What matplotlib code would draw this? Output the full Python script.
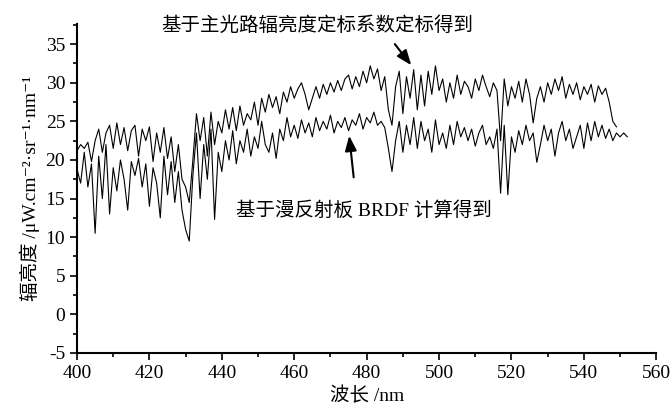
import numpy as np
import matplotlib
matplotlib.use("Agg")
import matplotlib.pyplot as plt
from matplotlib.ticker import MultipleLocator

plt.rcParams["font.family"] = ["Liberation Serif", "Noto Sans CJK SC", "DejaVu Serif"]
plt.rcParams["axes.unicode_minus"] = False

# 基于主光路辐亮度定标系数定标得到 (400-549 nm, 1 nm step)
wl_main = np.arange(400, 550)
rad_main = [
    21.2, 22.0, 21.5, 22.3, 19.8, 22.5, 24.0, 21.0, 23.5, 24.5,
    21.5, 24.8, 22.0, 24.2, 21.2, 23.8, 24.5, 20.5, 24.0, 22.5,
    24.3, 19.8, 23.5, 21.0, 24.2, 20.2, 23.0, 18.5, 22.0, 17.5,
    16.5, 14.5, 20.0, 26.0, 22.5, 25.5, 20.5, 26.2, 22.0, 25.0,
    23.5, 26.5, 24.0, 26.8, 23.8, 27.0, 24.5, 26.0, 25.2, 27.5,
    24.5, 28.0, 26.2, 28.5, 26.8, 28.2, 26.0, 28.8, 27.5, 29.5,
    28.0, 29.2, 30.0, 28.5, 26.5, 28.0, 29.5, 28.0, 29.8, 28.5,
    30.0, 28.8, 30.3, 29.0, 30.5, 31.0, 29.2, 30.8, 29.5, 31.5,
    30.0, 32.2, 30.5, 31.8, 29.0, 30.8, 26.5, 24.5, 29.5, 31.5,
    26.0, 30.8, 28.0, 31.7, 26.5, 31.0, 27.0, 31.5, 28.5, 32.2,
    29.0, 30.5, 27.5, 30.0, 28.0, 31.0, 28.5, 30.2, 29.5, 28.0,
    30.5, 29.0, 31.0, 29.5, 28.2, 30.0, 29.0, 22.5, 30.5, 27.0,
    29.5, 28.0, 30.2, 27.5, 30.5, 28.5, 24.8, 28.0, 29.5, 27.5,
    30.0, 28.5, 30.5, 29.0, 30.8, 28.0, 29.8, 28.5, 30.0, 27.8,
    29.5, 28.5, 29.8, 27.5, 29.6, 28.5, 29.3, 27.5, 25.0, 24.3,
]

# 基于漫反射板 BRDF 计算得到 (400-552 nm, 1 nm step)
wl_brdf = np.arange(400, 553)
rad_brdf = [
    18.8, 17.0, 21.0, 16.5, 19.5, 10.5, 20.5, 15.0, 22.0, 13.0,
    19.0, 16.0, 20.0, 17.5, 13.5, 19.8, 18.0, 20.2, 16.5, 19.5,
    14.0, 19.0, 17.0, 12.5, 20.5, 15.5, 19.8, 14.5, 18.5, 13.5,
    11.0, 9.5, 18.0, 23.5, 15.0, 22.0, 17.5, 24.0, 12.3, 21.0,
    18.5, 22.5, 20.0, 23.8, 19.5, 22.5, 21.0, 24.0, 20.5, 23.0,
    21.5, 25.0, 22.0, 21.0, 23.5, 20.2, 24.0, 22.5, 25.5, 23.0,
    24.5, 22.8, 25.2, 23.5, 24.8, 23.0, 25.5, 23.8, 25.0, 24.0,
    25.8, 23.5, 25.0, 24.2, 25.5, 23.8, 25.2, 24.5, 26.0, 24.0,
    25.5, 24.8, 26.2, 24.5, 25.0, 24.2, 21.5, 18.5, 22.5, 25.0,
    21.0, 24.5, 22.0, 25.5, 21.5, 25.0, 22.5, 24.0, 21.0, 25.2,
    22.0, 23.5, 21.5, 24.5, 22.0, 25.0, 23.0, 24.2, 22.5, 24.0,
    21.8, 23.5, 24.5, 22.0, 23.0, 21.5, 24.0, 15.7, 24.5, 15.5,
    23.0, 21.0, 23.8, 22.0, 24.5, 22.5, 23.5, 19.7, 22.0, 24.5,
    22.5, 24.0, 20.5, 23.5, 25.0, 22.5, 24.0, 21.5, 23.0, 24.5,
    21.5, 24.8, 22.5, 25.0, 23.0, 24.5, 22.8, 24.0, 22.5, 23.5,
    23.0, 23.5, 23.0,
]

fig = plt.figure(figsize=(6.72, 4.09), dpi=100)
ax = fig.add_axes([0.1146, 0.137, 0.862, 0.804])

ax.plot(wl_main, rad_main, color="black", lw=0.8)
ax.plot(wl_brdf, rad_brdf, color="black", lw=0.8)

ax.set_xlim(400, 560)
ax.set_ylim(-5, 37.6)
ax.xaxis.set_major_locator(MultipleLocator(20))
ax.xaxis.set_minor_locator(MultipleLocator(10))
ax.yaxis.set_major_locator(MultipleLocator(5))
ax.yaxis.set_minor_locator(MultipleLocator(2.5))
ax.tick_params(which="both", direction="out", labelsize=14, width=1.2)
ax.tick_params(which="major", length=5)
ax.tick_params(which="minor", length=3)
for side in ["top", "right"]:
    ax.spines[side].set_visible(False)
for side in ["left", "bottom"]:
    ax.spines[side].set_linewidth(1.5)

ax.set_xlabel("波长 /nm", fontsize=14, labelpad=4)
ax.set_ylabel("辐亮度 /μW.cm⁻²·sr⁻¹·nm⁻¹", fontsize=14, labelpad=4)

ax.annotate("", xy=(492.8, 32.0), xytext=(487.3, 35.3),
            arrowprops=dict(arrowstyle="-|>,head_width=0.35,head_length=0.9", color="black", lw=1.5),
            annotation_clip=False)
ax.text(466.5, 37.4, "基于主光路辐亮度定标系数定标得到", fontsize=14,
        ha="center", va="center", clip_on=False)

ax.annotate("", xy=(475.1, 23.5), xytext=(476.5, 17.4),
            arrowprops=dict(arrowstyle="-|>,head_width=0.35,head_length=0.9", color="black", lw=1.5))
ax.text(479.2, 13.5, "基于漫反射板 BRDF 计算得到", fontsize=14, ha="center", va="center")

fig.savefig("out.png", dpi=100)
